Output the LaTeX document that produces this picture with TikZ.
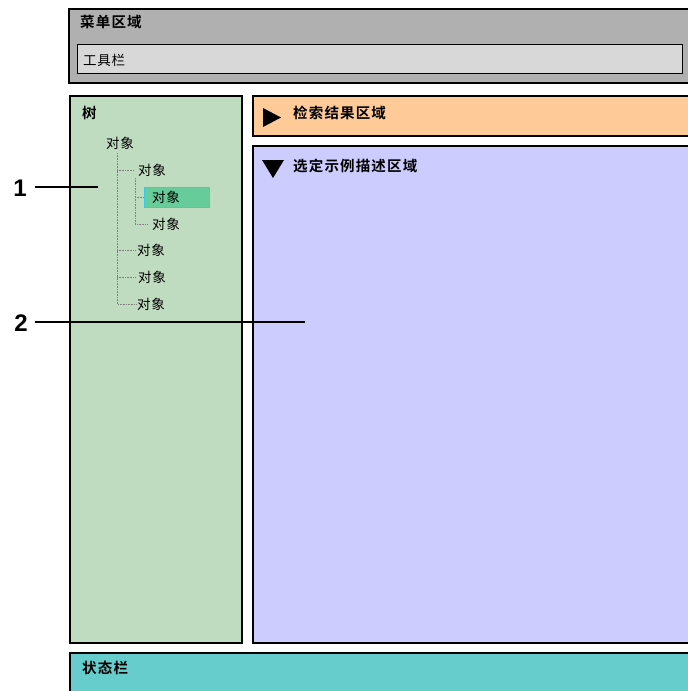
\documentclass[tikz,border=0pt]{standalone}
\usepackage{fontspec}
\newfontfamily\cjk[LetterSpace=5]{Noto Sans CJK SC}
\newfontfamily\cjkb[LetterSpace=8]{Noto Sans CJK SC Bold}
\setmainfont{Liberation Sans}
\begin{document}
\begin{tikzpicture}[x=1pt,y=-1pt,
  panel/.style={draw=black,line width=2.6pt},
  head/.style={anchor=west,font=\cjkb\fontsize{14.5}{16}\selectfont,inner sep=0pt},
  item/.style={anchor=west,font=\cjk\fontsize{13.5}{15}\selectfont,inner sep=0pt},
  tline/.style={draw=gray,densely dotted,line width=0.6pt},
  callout/.style={line width=2.2pt},
  num/.style={font=\bfseries\fontsize{24}{26}\selectfont,inner sep=0pt}]
\definecolor{menugray}{HTML}{B0B0B0}
\definecolor{toolgray}{HTML}{D8D8D8}
\definecolor{treegreen}{HTML}{C0DCC0}
\definecolor{orangefill}{HTML}{FECA98}
\definecolor{lavender}{HTML}{CCCCFF}
\definecolor{teal}{HTML}{66CCCC}
\definecolor{selgreen}{HTML}{66CC99}
\definecolor{selborder}{HTML}{33CCEE}
\useasboundingbox (0,0) rectangle (688,691);
\begin{scope}
\clip (0,0) rectangle (688,691);
% menu
\draw[panel,fill=menugray] (69,9) rectangle (700,83);
\node[head] (menu) at (80,22) {菜单区域};
\draw[draw=black,line width=1pt,fill=toolgray] (77,44) rectangle (682,73);
\node[item] (tool) at (83,60) {工具栏};
% tree panel
\draw[panel,fill=treegreen] (70,96) rectangle (242,643);
\node[head] (tree) at (82,113) {树};
% search results
\draw[panel,fill=orangefill] (253,96) rectangle (700,136);
\fill (263,108) -- (281,117.5) -- (263,127) -- cycle;
\node[head] (search) at (293,113) {检索结果区域};
% description
\draw[panel,fill=lavender] (253,146) rectangle (700,643);
\fill (262,160) -- (284,160) -- (273,178) -- cycle;
\node[head] (desc) at (293,166) {选定示例描述区域};
% status bar
\draw[panel,fill=teal] (70,653) rectangle (700,700);
\node[head] (status) at (82,668) {状态栏};
% tree items
\draw[draw=selborder,line width=0.8pt,fill=selgreen] (144,187) rectangle (209,207);
\node[item] (o1) at (106,143) {对象};
\node[item] (o2) at (138,170) {对象};
\node[item] (o3) at (152,197) {对象};
\node[item] (o4) at (152,224) {对象};
\node[item] (o5) at (137,250) {对象};
\node[item] (o6) at (138,277) {对象};
\node[item] (o7) at (137,304) {对象};
\coordinate (v1) at (117,153);
\coordinate (v2) at (135,178);
\draw[tline] (v1) |- (o7.west);
\draw[tline] (v1 |- o2.west) -- ([xshift=-4pt]o2.west);
\draw[tline] (v1 |- o5.west) -- ([xshift=-2pt]o5.west);
\draw[tline] (v1 |- o6.west) -- ([xshift=-3pt]o6.west);
\draw[tline] (v2) |- ([xshift=-4pt]o4.west);
\draw[tline] (v2 |- o3.west) -- (144,197);
% callouts
\node[num] (n1) at (20,188) {1};
\coordinate (c1) at (98,187);
\draw[callout] (35,187) -- (c1);
\node[num] (n2) at (21,323) {2};
\coordinate (c2) at (305,322);
\draw[callout] (35,322) -- (c2);
\end{scope}
\end{tikzpicture}
\end{document}
